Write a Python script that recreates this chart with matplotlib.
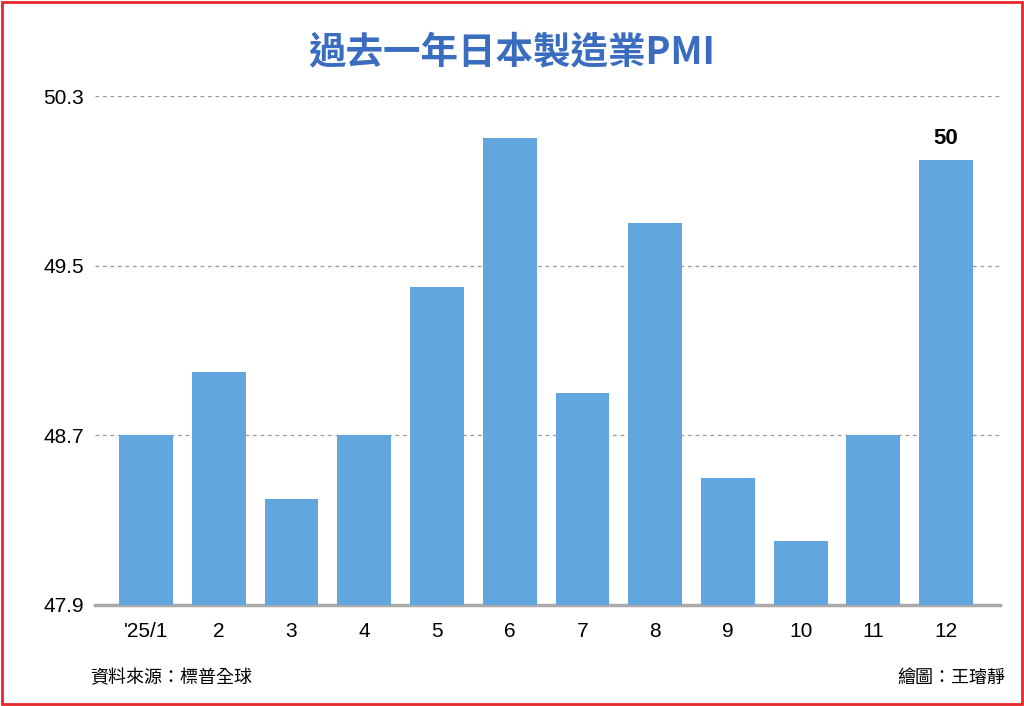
import matplotlib
matplotlib.use("Agg")
import matplotlib.pyplot as plt
from matplotlib.patches import Rectangle

plt.rcParams['font.family'] = ['Noto Sans CJK TC', 'DejaVu Sans']

months = ["'25/1", "2", "3", "4", "5", "6", "7", "8", "9", "10", "11", "12"]
values = [48.7, 49.0, 48.4, 48.7, 49.4, 50.1, 48.9, 49.7, 48.5, 48.2, 48.7, 50.0]
yticks = [47.9, 48.7, 49.5, 50.3]

fig = plt.figure(figsize=(10.24, 7.06), dpi=100)
fig.patches.append(Rectangle((0.002, 0.003), 0.996, 0.994, transform=fig.transFigure,
                             fill=False, edgecolor='#e8262a', linewidth=2))
ax = fig.add_axes([95/1024, 101/706, 905/1024, 509/706])
x = list(range(len(values)))
ax.bar(x, values, width=0.74, color='#62a6e0', bottom=0, zorder=3)
ax.set_ylim(47.9, 50.3)
ax.set_xlim(-0.7, 11.74)
ax.set_yticks(yticks)
ax.set_yticklabels([f"{v:.1f}" for v in yticks], fontsize=15, fontfamily='Liberation Sans')
ax.set_xticks(x)
ax.set_xticklabels(months, fontsize=15, fontfamily='Liberation Sans')
ax.tick_params(axis='both', length=0, pad=8)
ax.tick_params(axis='x', pad=12)
for v in yticks[1:]:
    ax.axhline(v, color='#999999', linestyle=(0, (3, 3)), linewidth=0.9, zorder=1)
for s in ['left', 'right', 'top']:
    ax.spines[s].set_visible(False)
ax.spines['bottom'].set_color('#aaaaaa')
ax.spines['bottom'].set_linewidth(2.5)
ax.text(11, values[-1] + 0.05, "50", ha='center', va='bottom', fontsize=16,
        fontweight='bold', fontfamily='Liberation Sans')

fig.text(0.5, 0.925, "過去一年日本製造業PMI", ha='center', va='center', fontsize=27,
         fontweight='bold', color='#3a6cbf')
fig.text(90/1024, 0.04, "資料來源：標普全球", ha='left', va='center', fontsize=13)
fig.text(1005/1024, 0.04, "繪圖：王璿靜", ha='right', va='center', fontsize=13)
fig.savefig("out.png", dpi=100)
